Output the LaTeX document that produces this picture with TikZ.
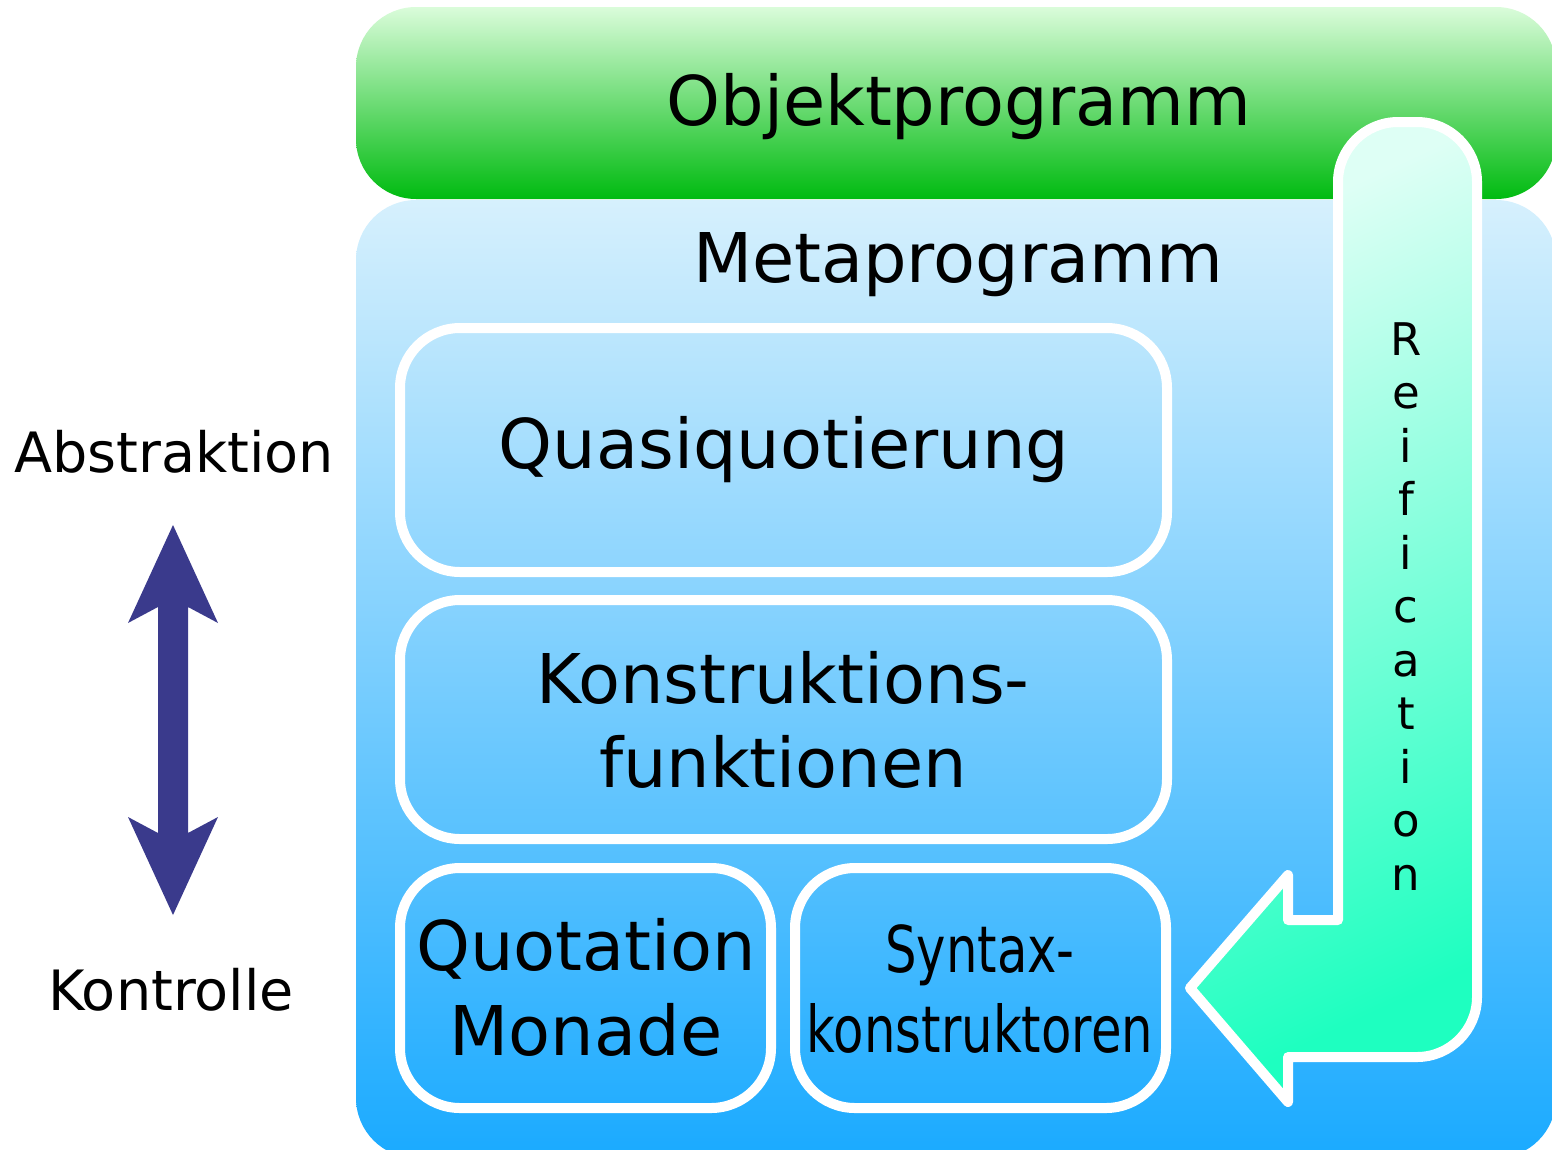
\documentclass[tikz,border=0pt]{standalone}
\usepackage{fontspec}
\setmainfont{DejaVu Sans}
\usepackage{graphicx}
\definecolor{gtop}{RGB}{218,252,218}
\definecolor{gbot}{RGB}{0,187,16}
\definecolor{btop}{RGB}{214,240,253}
\definecolor{bbot}{RGB}{26,170,255}
\definecolor{atop}{RGB}{222,255,245}
\definecolor{abot}{RGB}{30,255,192}
\definecolor{darr}{RGB}{58,58,140}
\tikzset{
  frame/.style={draw=white, line width=10pt, rounded corners=60pt},
  big/.style={font=\fontsize{68.6}{84}\selectfont, anchor=base, inner sep=0pt},
  side/.style={font=\fontsize{55.6}{66}\selectfont, anchor=base, inner sep=0pt},
  letter/.style={font=\fontsize{45}{54}\selectfont, anchor=base, inner sep=0pt},
  cond/.style={font=\fontsize{64.5}{80}\selectfont, anchor=base, inner sep=0pt},
}
\begin{document}
\begin{tikzpicture}[x=1pt,y=-1pt]
\useasboundingbox (0,0) rectangle (1552,1149);
\clip (0,0) rectangle (1552,1149);
% green object box
\shade[top color=gtop, bottom color=gbot, rounded corners=60pt] (356,7) rectangle (1556,199);
% blue meta box
\shade[top color=btop, bottom color=bbot, rounded corners=60pt] (356,200) rectangle (1556,1158);
% inner boxes
\draw[frame] (400,328) rectangle (1167,572);
\draw[frame] (400,600) rectangle (1167,839);
\draw[frame] (400,868) rectangle (771,1108);
\draw[frame] (795,868) rectangle (1166,1108);
% reification arrow
\shadedraw[top color=atop, bottom color=abot, shading angle=25, draw=white, line width=10pt, line join=round]
  (1190,988) -- (1288,875) -- (1288,920) -- (1338,920) -- (1338,182)
  .. controls (1338,149) and (1365,122) .. (1398,122) -- (1417,122)
  .. controls (1450,122) and (1477,149) .. (1477,182) -- (1477,997)
  .. controls (1477,1030) and (1450,1057) .. (1417,1057) -- (1288,1057) -- (1288,1102) -- cycle;
% double arrow
\fill[darr] (173,525) -- (218,623) -- (188,607) -- (188,833) -- (218,817) -- (173,915)
  -- (128,817) -- (158,833) -- (158,607) -- (128,623) -- cycle;
% texts
\node[big] (obj) at (959,125) {Objektprogramm};
\node[big] (meta) at (958,282) {Metaprogramm};
\node[big] (quasi) at (784,468) {Quasiquotierung};
\node[big] (k1) at (783,703) {Konstruktions-};
\node[big] (k2) at (783,787) {funktionen};
\node[big] (q1) at (586,970) {Quotation};
\node[big] (q2) at (586,1055) {Monade};
\node[cond] (s1) at (980,972) {\scalebox{0.77}[1]{Syntax-}};
\node[cond] (s2) at (980,1052) {\scalebox{0.77}[1]{konstruktoren}};
\node[side] (abs) at (174,472) {Abstraktion};
\node[side] (kon) at (171,1010) {Kontrolle};
\foreach \ch [count=\i] in {R,e,i,f,i,c,a,t,i,o,n}
  \node[letter] (r\i) at (1406,{355+53.5*(\i-1)}) {\ch};
\end{tikzpicture}
\end{document}
